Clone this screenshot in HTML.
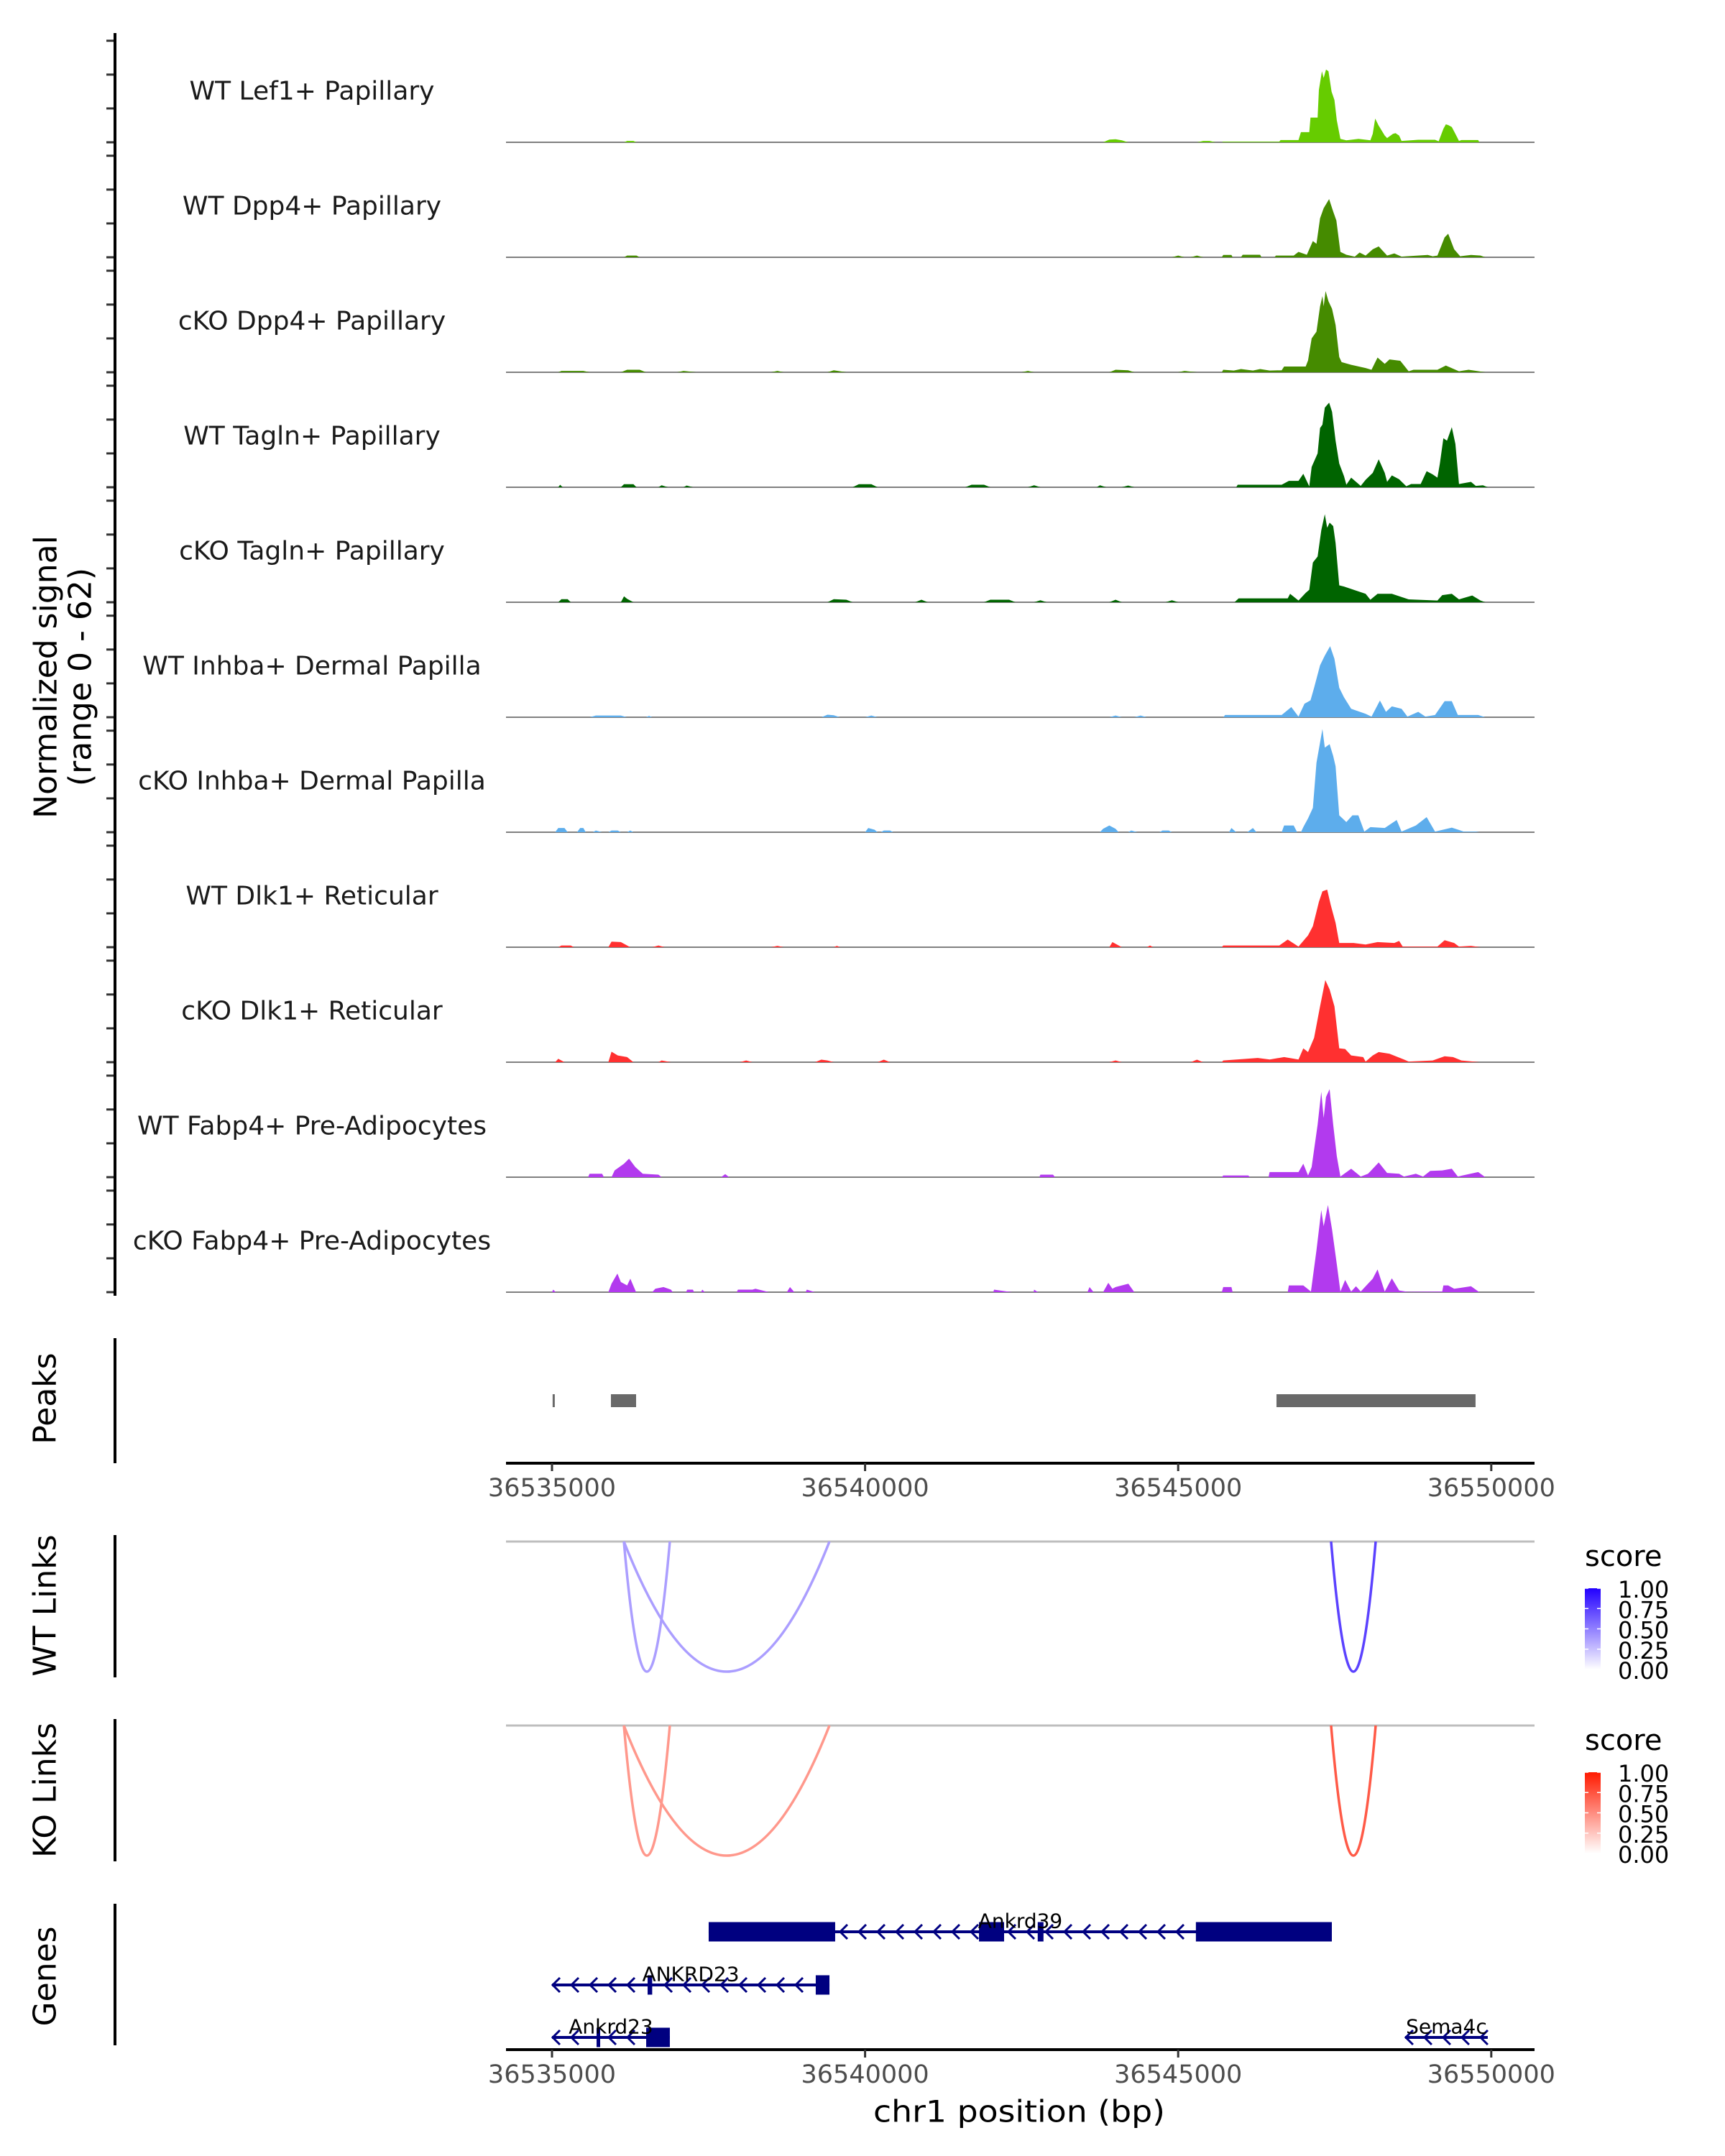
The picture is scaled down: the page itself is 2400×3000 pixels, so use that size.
<!DOCTYPE html>
<html>
<head>
<meta charset="utf-8">
<style>
  html,body{margin:0;padding:0;background:#fff;}
  svg{display:block;font-family:"DejaVu Sans","Liberation Sans",sans-serif;}
</style>
</head>
<body>
<svg id="fig" width="2400" height="3000" viewBox="0 0 2400 3000" xmlns="http://www.w3.org/2000/svg">
  <rect x="0" y="0" width="2400" height="3000" fill="#ffffff"/>
  <g id="tracks"></g>
  <g id="peaks"></g>
  <g id="links"></g>
  <g id="genes"></g>
  <g id="axes"></g>
</svg>
<script>
// ---------------- data ----------------
const REGION_START = 36535000;
const TRACK_NAMES = ["WT Lef1+ Papillary","WT Dpp4+ Papillary","cKO Dpp4+ Papillary","WT Tagln+ Papillary","cKO Tagln+ Papillary","WT Inhba+ Dermal Papilla","cKO Inhba+ Dermal Papilla","WT Dlk1+ Reticular","cKO Dlk1+ Reticular","WT Fabp4+ Pre-Adipocytes","cKO Fabp4+ Pre-Adipocytes"];
const TRACK_COLORS = ["#66CC00","#458B00","#458B00","#006400","#006400","#5DADEC","#5DADEC","#FF3030","#FF3030","#B23AEE","#B23AEE"];
const Y_TICKS = [0,20,40,60];
const Y_MAX = 62;
// coverage: [bp offset from REGION_START, normalized signal]
const cov_wt_lef1 = [[1150,0],[1200,0.8],[1300,0.8],[1350,0],[8800,0],[8900,1.6],[9000,1.8],[9100,1.2],[9200,0],[10300,0],[10400,0.8],[10500,0.8],[10600,0],
 [10697,0],[10720,0.4],[11615,0.4],[11634,1.3],[11921,1.3],[11960,6],[12094,6],[12113,14.6],[12227,14.6],[12247,31],[12296,42],[12323,38],[12361,43],[12400,42],[12449,30],[12495,25],[12533,13],[12591,2],[12686,1.2],[12880,2],[13069,1.2],[13107,5],[13146,14],[13200,10],[13299,4],[13337,2.5],[13430,5],[13471,5.4],[13528,4],[13567,0.8],[13834,1.5],[14102,1.5],[14160,0.6],[14236,8],[14274,10.6],[14313,10.2],[14370,9],[14427,5],[14485,0.8],[14523,1.3],[14791,1.3],[14810,0]];
const cov_wt_dpp4 = [[1150,0],[1200,1],[1350,1],[1400,0],[9900,0],[10000,1],[10100,0],[10200,0],[10300,1],[10400,0],
 [10697,0],[10720,1.4],[10850,1.4],[10870,0],[11003,0],[11030,1.5],[11309,1.5],[11330,0],[11539,0],[11560,1],[11845,1],[11921,3.2],[12055,1.5],[12151,9.6],[12208,8],[12266,23],[12323,29],[12411,34.4],[12476,27],[12526,21.7],[12591,3.2],[12686,1.5],[12820,0.4],[12897,2.8],[12993,1],[13107,4.7],[13203,6.4],[13337,1],[13452,2.3],[13567,0.4],[13643,0.6],[13987,1.4],[14064,0.6],[14140,1],[14255,11.8],[14313,13.9],[14408,4.7],[14504,0.6],[14676,1.4],[14829,1],[14905,0]];
const cov_cko_dpp4 = [[100,0],[150,0.8],[500,0.8],[600,0],[1100,0],[1200,1.5],[1400,1.5],[1500,0],[2000,0],[2100,0.8],[2300,0],[3500,0],[3600,0.8],[3700,0],[4400,0],[4500,1.2],[4700,0],[7500,0],[7600,0.8],[7700,0],[8900,0],[9000,1.5],[9200,1.2],[9300,0],[10000,0],[10100,0.8],[10300,0],
 [10697,0],[10720,1.5],[10888,1],[11003,1.9],[11194,1],[11309,1.9],[11462,1],[11653,1.2],[11692,3.4],[12036,3.4],[12074,7],[12132,20],[12208,24],[12266,39],[12304,45],[12323,39],[12354,48],[12400,42],[12457,37.5],[12514,28],[12572,9],[12610,6],[12763,4.4],[12993,2.5],[13088,1.5],[13184,8.7],[13299,5],[13375,7.6],[13547,6.8],[13681,0.6],[13758,1.5],[14140,1.5],[14274,4],[14485,0.6],[14638,1.5],[14905,0]];
const cov_wt_tagln = [[100,0],[130,1.5],[170,0],[1100,0],[1150,1.8],[1300,1.8],[1350,0],[1700,0],[1750,1.2],[1850,0],[2100,0],[2150,1],[2250,0],[4800,0],[4900,1.8],[5100,1.8],[5200,0],[6600,0],[6700,1.5],[6900,1.5],[7000,0],[7600,0],[7700,1.2],[7800,0],[8700,0],[8750,1.2],[8850,0],[9100,0],[9200,1],[9300,0],
 [10927,0],[10950,1.5],[11653,1.5],[11768,3.8],[11921,3.8],[11998,8],[12094,0.5],[12132,12],[12227,20],[12266,35],[12304,37],[12342,47],[12411,50],[12457,44.6],[12514,27.5],[12572,14],[12648,6.6],[12686,1.5],[12763,5.7],[12916,0.8],[12993,4.4],[13107,8.5],[13203,16.5],[13299,8.5],[13337,3.2],[13413,7],[13528,4.7],[13643,0.6],[13720,1.9],[13873,1.9],[13968,9.5],[14064,7.6],[14140,5.7],[14179,14],[14236,29],[14293,27.5],[14370,35.5],[14427,25.6],[14485,1.9],[14676,3.2],[14753,0.8],[14867,1.2],[14944,0]];
const cov_cko_tagln = [[100,0],[150,1.8],[250,1.8],[300,0],[1100,0],[1150,3.5],[1200,2],[1300,0],[4400,0],[4500,1.8],[4700,1.5],[4800,0],[5800,0],[5900,1.5],[6000,0],[6900,0],[7000,1.5],[7300,1.5],[7400,0],[7700,0],[7800,1.2],[7900,0],[8900,0],[9000,1.5],[9100,0],[9800,0],[9900,1.2],[10000,0],
 [10900,0],[10965,2.3],[11749,2.3],[11787,5],[11921,1],[12036,5.5],[12094,7.4],[12151,23.5],[12227,27],[12285,42.5],[12342,52],[12380,44],[12419,47],[12476,45],[12514,35],[12572,10],[12648,9.3],[12801,7.4],[12993,5],[13069,1.5],[13184,5],[13413,5],[13681,1.7],[14140,1],[14217,4.2],[14370,5],[14485,1.7],[14696,4],[14829,1],[14905,0]];
const cov_wt_inhba = [[600,0],[700,1],[1100,1],[1200,0],[1500,0],[1550,0.8],[1600,0],[4300,0],[4400,1.5],[4500,1.2],[4600,0],[5000,0],[5100,1],[5200,0],[8900,0],[9000,1],[9100,0],[9300,0],[9400,1],[9500,0],
 [10720,0],[10750,1.3],[11653,1.3],[11807,6],[11921,0.4],[12017,8],[12113,10],[12170,17.4],[12266,30.7],[12342,36.4],[12426,42],[12495,34.5],[12572,17.4],[12648,11.8],[12763,5],[12993,2],[13088,0.4],[13222,9.9],[13318,3.2],[13413,6.4],[13567,5],[13662,0.4],[13834,3.2],[13949,0.4],[14102,1.3],[14255,9.5],[14370,9.5],[14466,1.3],[14791,1.3],[14905,0]];
const cov_cko_inhba = [[50,0],[100,2.5],[200,2.5],[250,0],[400,0],[450,2.5],[500,2.5],[540,0],[650,0],[700,1],[800,0],[900,0],[950,1],[1050,1],[1100,0],[1200,0],[1250,1],[1300,0],[5000,0],[5050,2.5],[5150,1.5],[5200,0],[5250,0],[5300,1],[5400,1],[5450,0],[8750,0],[8800,2],[8900,4],[9000,2],[9050,0],[9200,0],[9250,1],[9350,0],[9700,0],[9750,1],[9850,1],[9900,0],
 [10812,0],[10850,2.5],[10927,0],[11103,0],[11194,2.5],[11250,0],[11653,0],[11692,4],[11845,4],[11900,0],[11960,0],[11998,3],[12074,8.2],[12151,14.4],[12208,41],[12304,61],[12342,50],[12419,52],[12476,45],[12514,39],[12572,10],[12686,6],[12782,10],[12878,10],[12973,0.4],[13069,3],[13299,2.5],[13490,7.2],[13567,0.4],[13796,4],[13968,8.9],[14102,0.4],[14370,2.7],[14561,0.4],[14753,0.4],[14810,0]];
const cov_wt_dlk1 = [[100,0],[150,1],[300,1],[350,0],[900,0],[950,3.3],[1100,3],[1250,0],[1600,0],[1700,1],[1800,0],[3500,0],[3600,0.8],[3700,0],[4500,0],[4550,0.8],[4600,0],[8900,0],[8950,3],[9050,1],[9100,0],[9500,0],[9550,1],[9600,0],
 [10697,0],[10720,1],[11615,1],[11749,4.5],[11921,0.4],[12074,7],[12151,12.4],[12247,26.8],[12304,33],[12380,34],[12438,24.7],[12514,14.4],[12572,2.5],[12801,2.5],[12993,1.6],[13184,3],[13452,2.5],[13528,3.7],[13586,0.4],[14140,0.4],[14255,4.1],[14408,2.5],[14485,0.4],[14676,0.8],[14829,0]];
const cov_cko_dlk1 = [[50,0],[100,2],[200,0],[900,0],[950,6.2],[1050,4],[1200,3],[1300,0],[1700,0],[1750,1],[1900,0],[3000,0],[3100,1],[3200,0],[4200,0],[4300,1.5],[4400,1],[4500,0],[5200,0],[5300,1.5],[5400,0],[8900,0],[9000,1],[9100,0],[10200,0],[10300,1.5],[10400,0],
 [10697,0],[10720,1],[11271,2.5],[11462,1.6],[11692,3],[11921,1.6],[11998,8.2],[12074,6],[12170,14.4],[12266,33],[12350,48.5],[12419,43],[12495,33],[12572,8.2],[12667,7.8],[12763,4],[12954,3],[12993,0.4],[13107,4],[13203,6],[13375,5],[13605,1.6],[13681,0.4],[14064,1],[14255,3.5],[14389,3],[14523,1],[14714,0.4],[14810,0]];
const cov_wt_fabp4 = [[575,0],[600,2],[800,2],[830,0],[950,0],[1000,4],[1150,8],[1230,10.9],[1330,6],[1450,2],[1700,1.5],[1750,0],[2700,0],[2766,1.8],[2830,0],[7782,0],[7800,1.5],[8000,1.5],[8035,0],
 [10697,0],[10720,1],[11118,1],[11150,0],[11443,0],[11460,3],[11921,3],[11998,8],[12074,1],[12132,6],[12227,31],[12285,50.5],[12323,35],[12361,47.4],[12419,52],[12476,31],[12533,12.4],[12591,0.4],[12763,5],[12916,0.4],[13031,2],[13203,8.7],[13337,2.5],[13528,2],[13605,0.4],[13796,2],[13911,0.4],[14026,3.7],[14217,4],[14370,5],[14466,0.4],[14791,3],[14905,0]];
const cov_cko_fabp4 = [[0,0],[20,1.5],[60,0],[900,0],[950,5],[1045,11],[1100,6],[1200,4],[1251,8],[1343,0],[1600,0],[1650,2],[1780,3],[1900,1.5],[1930,0],[2140,0],[2160,1.5],[2250,1.5],[2270,0],[2380,0],[2400,1.5],[2440,0],[2950,0],[2970,1.5],[3200,1.5],[3250,2],[3466,0],[3750,0],[3800,3],[3870,0],[4050,0],[4070,1.5],[4200,0],[7047,0],[7060,1.5],[7346,0],[7690,0],[7700,1.5],[7760,0],[8550,0],[8585,3],[8650,0],[8800,0],[8884,5.5],[8950,2],[9000,3],[9100,4],[9205,5],[9300,0],
 [10697,0],[10720,3],[10850,3],[10870,0],[11749,0],[11768,4],[11998,4],[12120,0.4],[12208,24.7],[12285,48.5],[12323,39],[12392,51.5],[12457,37],[12533,16.5],[12591,0.4],[12667,7.2],[12763,0.4],[12840,3.5],[12916,0.4],[13107,8],[13184,13.4],[13299,0.4],[13413,8.2],[13528,1],[13662,0.2],[14217,0.4],[14236,4],[14313,4],[14408,2],[14676,3.5],[14810,0]];
const COVERAGE = [cov_wt_lef1,cov_wt_dpp4,cov_cko_dpp4,cov_wt_tagln,cov_cko_tagln,cov_wt_inhba,cov_cko_inhba,cov_wt_dlk1,cov_cko_dlk1,cov_wt_fabp4,cov_cko_fabp4];

// peaks (bp offsets)
const PEAK_STARTS = [10, 941, 11570];
const PEAK_ENDS = [40, 1343, 14749];

// links: start, end (bp offsets), score
const WT_LINK_STARTS = [1148, 1148, 12442];
const WT_LINK_ENDS = [1882, 4431, 13154];
const WT_LINK_SCORES = [0.38, 0.38, 0.74];
const KO_LINK_STARTS = [1148, 1148, 12442];
const KO_LINK_ENDS = [1882, 4431, 13154];
const KO_LINK_SCORES = [0.45, 0.45, 0.72];

// genes
const GENE_NAMES = ["Ankrd39","ANKRD23","Ankrd23","Sema4c"];
const GENE_SPANS = [[2502,12454],[0,4431],[0,1882],[13624,14944]];
const GENE_EXONS = [[[2502,4522],[6819,7220],[7757,7849],[10283,12454]],[[1527,1600],[4212,4431]],[[712,760],[1504,1882]],[]];
const GENE_ROWS = [0,1,2,2];

const X_TICKS = [36535000,36540000,36545000,36550000];
const LEGEND_TICKS = ["1.00","0.75","0.50","0.25","0.00"];

// ---------------- helpers ----------------
const NS = "http://www.w3.org/2000/svg";
function el(tag, attrs, parent){
  const e = document.createElementNS(NS, tag);
  for (const k in attrs) e.setAttribute(k, attrs[k]);
  parent.appendChild(e);
  return e;
}
const PX_PER_BP = 0.08712;
function xs(off){ return 768 + off*PX_PER_BP; }
const X_LEFT = 704, X_RIGHT = 2135;
const TRACK_BASE0 = 198, TRACK_STEP = 160, TRACK_PX = 146;
function ys(i, v){ return TRACK_BASE0 + TRACK_STEP*i - v*TRACK_PX/Y_MAX; }
function mix(c1, c2, t){
  const a = [parseInt(c1.substr(1,2),16),parseInt(c1.substr(3,2),16),parseInt(c1.substr(5,2),16)];
  const b = [parseInt(c2.substr(1,2),16),parseInt(c2.substr(3,2),16),parseInt(c2.substr(5,2),16)];
  return "rgb(" + a.map((v,k)=>Math.round(v+(b[k]-v)*t)).join(",") + ")";
}

const gTracks = document.getElementById("tracks");
const gPeaks = document.getElementById("peaks");
const gLinks = document.getElementById("links");
const gGenes = document.getElementById("genes");
const gAxes = document.getElementById("axes");

// ---------------- coverage tracks ----------------
TRACK_NAMES.forEach((name, i) => {
  const base = ys(i, 0);
  const bl = el("line", {x1:X_LEFT, x2:X_RIGHT, y1:base, y2:base, stroke:"#808080", "stroke-width":2}, gTracks);
  
  
  const pts = COVERAGE[i];
  let d = "M" + xs(pts[0][0]).toFixed(1) + "," + base;
  pts.forEach(p => { d += "L" + xs(p[0]).toFixed(1) + "," + ys(i, p[1]).toFixed(1); });
  d += "L" + xs(pts[pts.length-1][0]).toFixed(1) + "," + base + "Z";
  const area = el("path", {d:d, fill:TRACK_COLORS[i], stroke:"none"}, gTracks);
  
  
  const lab = el("text", {x:434, y:base-71, "text-anchor":"middle", "dominant-baseline":"central", "font-size":36, fill:"#1a1a1a"}, gTracks);
  lab.textContent = name;
  
  
  Y_TICKS.forEach(t => {
    const yy = ys(i, t);
    const tk = el("line", {x1:148, x2:160, y1:yy, y2:yy, stroke:"#333", "stroke-width":3}, gAxes);
    
    
  });
});
// track y axis
const yAxis = el("line", {x1:160, x2:160, y1:46, y2:1803, stroke:"#000", "stroke-width":4}, gAxes);


const yt1 = el("text", {x:0, y:0, transform:"translate(64,942) rotate(-90)", "text-anchor":"middle", "dominant-baseline":"central", "font-size":44, fill:"#000"}, gAxes);
yt1.textContent = "Normalized signal";


const yt2 = el("text", {x:0, y:0, transform:"translate(112,942) rotate(-90)", "text-anchor":"middle", "dominant-baseline":"central", "font-size":44, fill:"#000"}, gAxes);
yt2.textContent = "(range 0 - 62)";



// ---------------- panel side axes/labels ----------------
const PANEL_LABELS = ["Peaks","WT Links","KO Links","Genes"];
const PANEL_TOPS = [1862, 2136, 2392, 2649];
const PANEL_BOTS = [2036, 2334, 2590, 2846];
const PANEL_LABEL_Y = [1946, 2234, 2491, 2750];
PANEL_LABELS.forEach((t, k) => {
  const ax = el("line", {x1:160, x2:160, y1:PANEL_TOPS[k], y2:PANEL_BOTS[k], stroke:"#000", "stroke-width":4}, gAxes);
  
  
  const tx = el("text", {x:0, y:0, transform:"translate(63," + PANEL_LABEL_Y[k] + ") rotate(-90)", "text-anchor":"middle", "dominant-baseline":"central", "font-size":44, fill:"#000"}, gAxes);
  tx.textContent = t;
  
  
});

// ---------------- peaks ----------------
PEAK_STARTS.forEach((s, k) => {
  const x1 = xs(s), x2 = Math.max(xs(PEAK_ENDS[k]), x1+3);
  const r = el("rect", {x:x1, y:1940, width:x2-x1, height:18, fill:"#696969"}, gPeaks);
  
  
});

// x axes (peaks panel and genes panel)
function drawXAxis(y, nameSuffix){
  const ln = el("line", {x1:704, x2:X_RIGHT, y1:y, y2:y, stroke:"#000", "stroke-width":4}, gAxes);
  
  
  X_TICKS.forEach(t => {
    const x = xs(t - REGION_START);
    const tk = el("line", {x1:x, x2:x, y1:y, y2:y+11, stroke:"#333", "stroke-width":3}, gAxes);
    
    
    const lb = el("text", {x:x, y:y+35, "text-anchor":"middle", "dominant-baseline":"central", "font-size":35, fill:"#4d4d4d"}, gAxes);
    lb.textContent = String(t);
    
    
  });
}
drawXAxis(2036, "peaks");
drawXAxis(2852, "genes");
const xt = el("text", {x:1418, y:2938, "text-anchor":"middle", "dominant-baseline":"central", "font-size":42, fill:"#000", textLength:406, lengthAdjust:"spacingAndGlyphs"}, gAxes);
xt.textContent = "chr1 position (bp)";



// ---------------- links ----------------
function drawLinks(starts, ends, scores, y0, top, nameSuffix){
  const bl = el("line", {x1:X_LEFT, x2:X_RIGHT, y1:y0, y2:y0, stroke:"#bebebe", "stroke-width":3}, gLinks);
  
  
  starts.forEach((s, k) => {
    const x1 = xs(s), x2 = xs(ends[k]);
    const cy = y0 + 181*2;
    const p = el("path", {d:"M"+x1+","+y0+" Q"+((x1+x2)/2)+","+cy+" "+x2+","+y0, fill:"none", stroke:mix("#ffffff", top, scores[k]), "stroke-width":3.5}, gLinks);
    
    
  });
}
drawLinks(WT_LINK_STARTS, WT_LINK_ENDS, WT_LINK_SCORES, 2145, "#2200ff", "wt");
drawLinks(KO_LINK_STARTS, KO_LINK_ENDS, KO_LINK_SCORES, 2401, "#ff1a00", "ko");

// legends
function drawLegend(y0, top, gid, nameSuffix){
  const defs = el("defs", {}, gLinks);
  const lg = el("linearGradient", {id:gid, x1:0, y1:0, x2:0, y2:1}, defs);
  el("stop", {offset:"0", "stop-color":top}, lg);
  el("stop", {offset:"1", "stop-color":"#ffffff"}, lg);
  const title = el("text", {x:2205, y:y0+21, "dominant-baseline":"central", "font-size":40, fill:"#000"}, gLinks);
  title.textContent = "score";
  
  
  const bar = el("rect", {x:2205, y:y0+65, width:22, height:113, fill:"url(#"+gid+")"}, gLinks);
  
  
  LEGEND_TICKS.forEach((t, k) => {
    const yy = y0 + 65 + k*113/4;
    el("line", {x1:2205, x2:2210, y1:yy, y2:yy, stroke:"#fff", "stroke-width":1.5}, gLinks);
    el("line", {x1:2222, x2:2227, y1:yy, y2:yy, stroke:"#fff", "stroke-width":1.5}, gLinks);
    const tl = el("text", {x:2251, y:yy+2, "dominant-baseline":"central", "font-size":32, fill:"#000"}, gLinks);
    tl.textContent = t;
    
    
  });
}
drawLegend(2145, "#2200ff", "gradWT", "wt");
drawLegend(2401, "#ff1a00", "gradKO", "ko");

// ---------------- genes ----------------
const ROW_Y = [2688, 2762, 2835];
GENE_NAMES.forEach((g, k) => {
  const y = ROW_Y[GENE_ROWS[k]];
  const s = xs(GENE_SPANS[k][0]), e = xs(GENE_SPANS[k][1]);
  const ln = el("line", {x1:s, x2:e, y1:y, y2:y, stroke:"#000080", "stroke-width":4}, gGenes);
  
  
  const exons = GENE_EXONS[k];
  const inExon = x => exons.some(ex => x >= xs(ex[0])-6 && x <= xs(ex[1])+6);
  for (let x = s + 6; x < e - 2; x += 26) {
    if (inExon(x)) continue;
    const ch = el("path", {d:"M"+(x+5)+","+(y-10)+" L"+(x-5)+","+y+" L"+(x+5)+","+(y+10), fill:"none", stroke:"#000080", "stroke-width":3}, gGenes);
    
    
  }
  exons.forEach(ex => {
    const x1 = xs(ex[0]), x2 = Math.max(xs(ex[1]), x1+5);
    const r = el("rect", {x:x1, y:y-13.5, width:x2-x1, height:27, fill:"#000080"}, gGenes);
    
    
  });
  const lb = el("text", {x:(s+e)/2, y:y-15, "text-anchor":"middle", "dominant-baseline":"central", "font-size":28, fill:"#000"}, gGenes);
  lb.textContent = g;
  
  
});
</script>
</body>
</html>
